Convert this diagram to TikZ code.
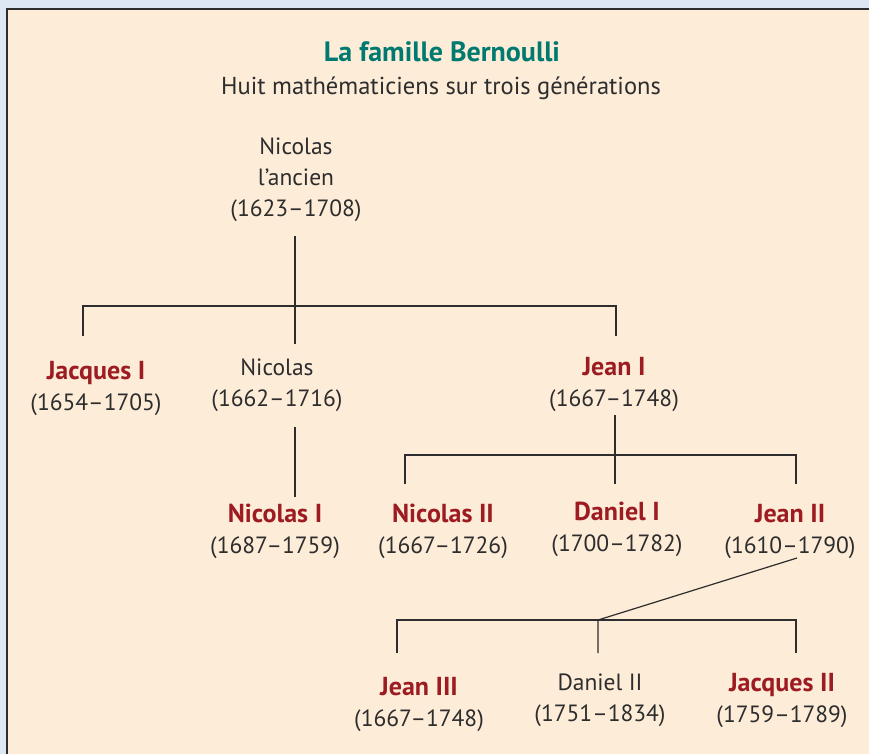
\documentclass[tikz,border=0pt]{standalone}
\usepackage{fontspec}
\setmainfont{PT Sans}
\usetikzlibrary{calc}

\definecolor{fond}{RGB}{253,236,216}
\definecolor{dehors}{RGB}{220,231,243}
\definecolor{rouge}{RGB}{156,28,34}
\definecolor{sarcelle}{RGB}{0,122,112}
\definecolor{encre}{RGB}{45,45,45}

\newcommand\Nom[1]{{\fontsize{26}{31}\selectfont\bfseries\color{rouge}#1}}

\tikzset{
  membre/.style={align=center,inner sep=0pt,text=encre,
    font=\fontsize{23.5}{31}\selectfont},
  lien/.style={line width=1.2pt,color=encre}
}

\begin{document}
\begin{tikzpicture}[x=1pt,y=-1pt]
\useasboundingbox (0,0) rectangle (869,754);
\fill[dehors] (0,0) rectangle (869,754);
\filldraw[fill=fond,draw=encre,line width=2.5pt] (7,9) rectangle (885,770);

% titre
\node[membre,text=sarcelle,font=\fontsize{28}{30}\selectfont\bfseries] (titre) at (442,52) {La famille Bernoulli};
\node[membre,font=\fontsize{24.5}{30}\selectfont] (soustitre) at (441,88) {Huit mathématiciens sur trois générations};

% generation 0
\node[membre] (ancien) at (296,180) {Nicolas\\l'ancien\\(1623–1708)};

% generation 1
\node[membre] (jacquesI) at (96,388) {\Nom{Jacques I}\\(1654–1705)};
\node[membre] (nicolas) at (277,385) {Nicolas\\(1662–1716)};
\node[membre] (jeanI) at (614,384) {\Nom{Jean I}\\(1667–1748)};

% generation 2
\node[membre] (nicolasI) at (275,531) {\Nom{Nicolas I}\\(1687–1759)};
\node[membre] (nicolasII) at (443,531) {\Nom{Nicolas II}\\(1667–1726)};
\node[membre] (danielI) at (617,529) {\Nom{Daniel I}\\(1700–1782)};
\node[membre] (jeanII) at (790,531) {\Nom{Jean II}\\(1610–1790)};

% generation 3
\node[membre] (jeanIII) at (419,704) {\Nom{Jean III}\\(1667–1748)};
\node[membre] (danielII) at (600,700) {Daniel II\\(1751–1834)};
\node[membre] (jacquesII) at (782,700) {\Nom{Jacques II}\\(1759–1789)};

% points des branches
\coordinate (A0) at (295,236);
\coordinate (A1) at (295,306);
\coordinate (A2) at (295,344);
\coordinate (G1) at (83,306);
\coordinate (G2) at (83,336);
\coordinate (D1) at (616,306);
\coordinate (D2) at (616,336);

\coordinate (N0) at (295,427);
\coordinate (N1) at (295,497);

\coordinate (J0) at (615,415);
\coordinate (J1) at (615,455);
\coordinate (J2) at (615,484);
\coordinate (K1) at (405,455);
\coordinate (K2) at (405,484);
\coordinate (L1) at (796,455);
\coordinate (L2) at (796,484);

\coordinate (S0) at (797,558);
\coordinate (S1) at (598,620);
\coordinate (S2) at (598,653);
\coordinate (P1) at (397,620);
\coordinate (P2) at (397,653);
\coordinate (Q1) at (796,620);
\coordinate (Q2) at (796,653);

\draw[lien] (A0) -- (A2);
\draw[lien] (G2) -- (G1) -- (D1) -- (D2);
\draw[lien] (N0) -- (N1);
\draw[lien] (J0) -- (J2);
\draw[lien] (K2) -- (K1) -- (L1) -- (L2);
\draw[lien] (S0) -- (S1) -- (S2);
\draw[lien] (P2) -- (P1) -- (Q1) -- (Q2);

\end{tikzpicture}
\end{document}
